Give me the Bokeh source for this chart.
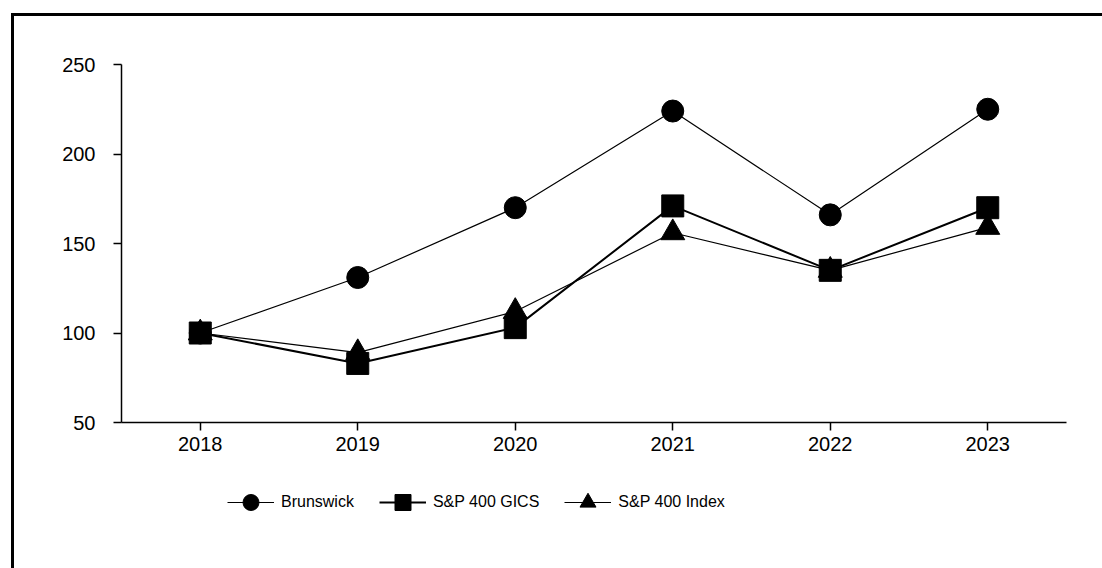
from bokeh.plotting import figure
from bokeh.layouts import column
from bokeh.models import Legend, LegendItem, FixedTicker, Range1d
from bokeh.embed import file_html
from bokeh.resources import INLINE

years = [2018, 2019, 2020, 2021, 2022, 2023]
brunswick = [100, 131, 170, 224, 166, 225]
gics = [100, 83, 103, 171, 135, 170]
sp400 = [100, 89, 112, 156, 135, 159]
y_ticks = [50, 100, 150, 200, 250]

FONT = "Liberation Sans"

p = figure(frame_width=945, frame_height=358, output_backend="svg", toolbar_location=None,
           x_range=Range1d(2017.5, 2023.5), y_range=Range1d(50, 250),
           min_border_left=107, min_border_top=48, min_border_right=39, min_border_bottom=40)
p.outline_line_color = None
p.grid.visible = False
p.background_fill_color = "white"
p.border_fill_color = "white"

for ax in (p.xaxis[0], p.yaxis[0]):
    ax.axis_line_color = "black"
    ax.axis_line_width = 1.5
    ax.major_tick_line_color = "black"
    ax.major_tick_line_width = 1.5
    ax.major_tick_out = 8
    ax.major_tick_in = 0
    ax.minor_tick_line_color = None
    ax.major_label_text_font = FONT
    ax.major_label_text_font_size = "20px"
    ax.major_label_text_color = "black"

p.xaxis[0].ticker = FixedTicker(ticks=years)
p.yaxis[0].ticker = FixedTicker(ticks=y_ticks)
p.xaxis[0].major_label_standoff = 6
p.yaxis[0].major_label_standoff = 18

styles = [
    ("circle", 22, 1.2, brunswick),
    ("square", 22, 2.0, gics),
    ("triangle", 24, 1.2, sp400),
]
for marker, size, lw, ys in styles:
    p.line(years, ys, line_color="black", line_width=lw)
    p.scatter(years, ys, marker=marker, size=size, fill_color="black", line_color="black")

# legend strip below the chart (its own renderers lie outside its view)
q = figure(width=1091, height=109, output_backend="svg", toolbar_location=None,
           x_range=Range1d(0, 1), y_range=Range1d(0, 1),
           x_axis_type=None, y_axis_type=None, min_border=0)
q.outline_line_color = None
q.grid.visible = False
q.background_fill_color = "white"
q.border_fill_color = "white"

names = ["Brunswick", "S&P 400 GICS", "S&P 400 Index"]
items = []
for name, (marker, size, lw, ys) in zip(names, styles):
    rl = q.line(years, ys, line_color="black", line_width=lw)
    rs = q.scatter(years, ys, marker=marker, size=size, fill_color="black", line_color="black")
    items.append(LegendItem(label=name, renderers=[rl, rs]))

legend = Legend(items=items, orientation="horizontal", location=(106, 49))
legend.glyph_width = 47
legend.glyph_height = 40
legend.label_standoff = 7
legend.spacing = 25
legend.padding = 0
legend.margin = 0
legend.border_line_color = None
legend.background_fill_alpha = 0
legend.label_text_font = FONT
legend.label_text_font_size = "16px"
legend.label_text_color = "black"
q.add_layout(legend, "center")

layout = column(p, q, spacing=0)
layout.margin = (13, 0, 0, 11)
layout.styles = {"border-left": "3px solid black", "border-top": "3px solid black"}

open("out.html", "w").write(file_html(layout, INLINE))
